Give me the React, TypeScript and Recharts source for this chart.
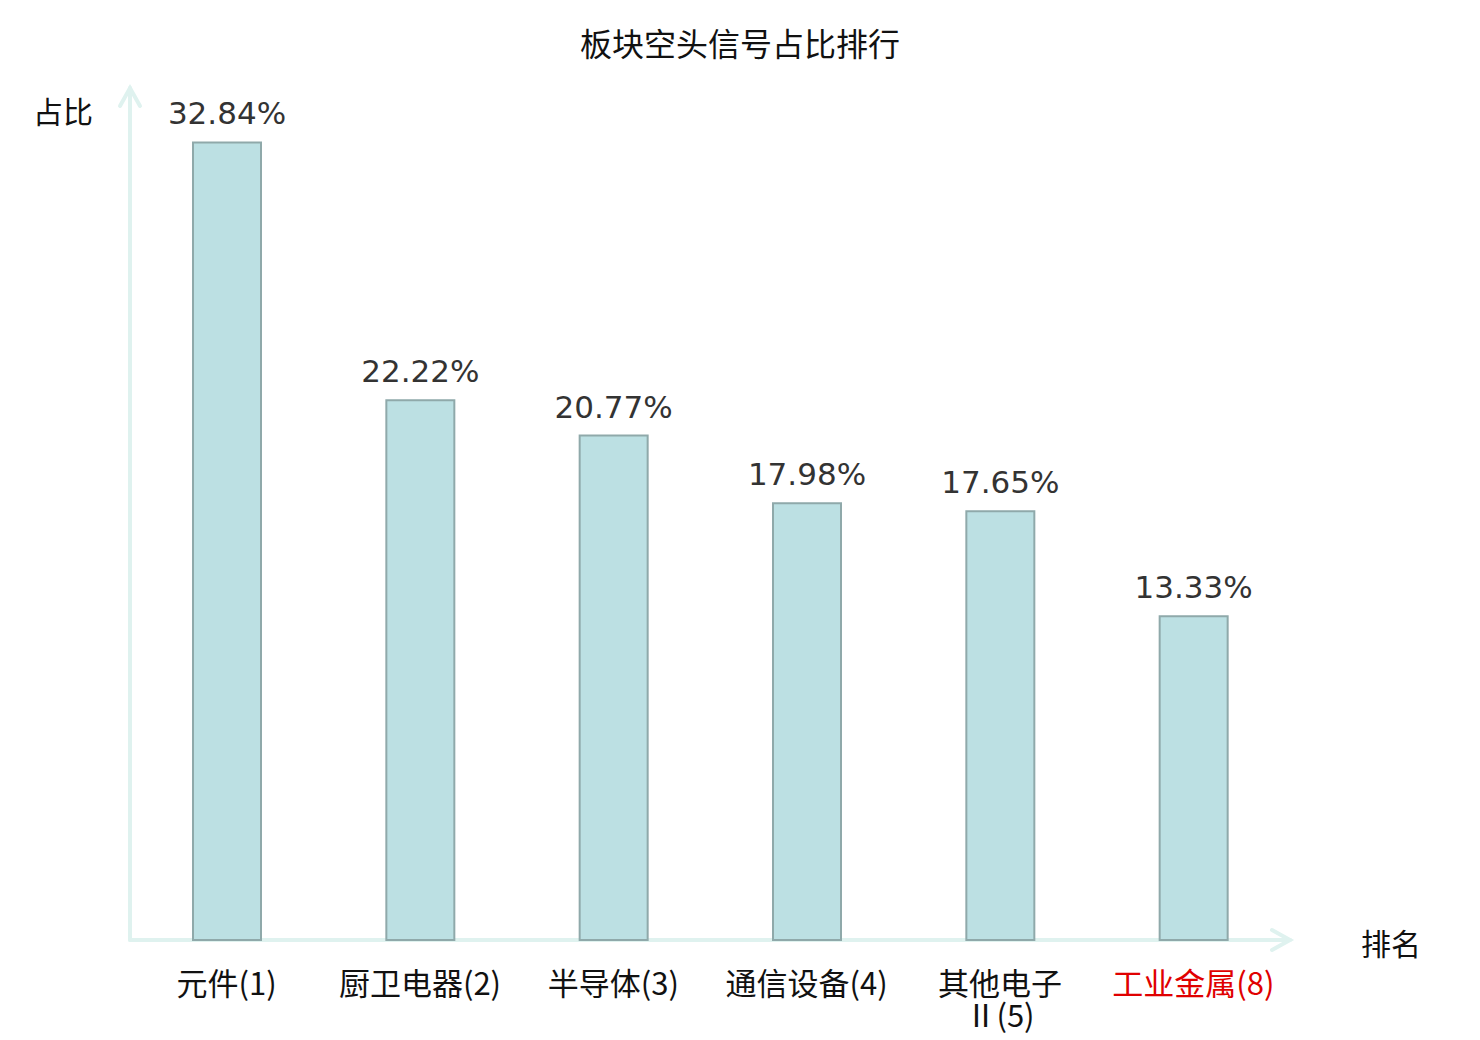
import React from 'react';
import { Bar, BarChart, LabelList, XAxis, YAxis, useOffset } from 'recharts';

const categories = ['元件(1)', '厨卫电器(2)', '半导体(3)', '通信设备(4)', '其他电子Ⅱ(5)', '工业金属(8)'];
const shares = [32.84, 22.22, 20.77, 17.98, 17.65, 13.33];
const highlighted = ['工业金属(8)'];

const data = categories.map((name, i) => ({ name, value: shares[i] }));

const W = 1480;
const H = 1040;
const AXIS_COLOR = '#dff2ef';
const CJK_FONT = '"Noto Sans CJK SC", "Noto Sans", sans-serif';

const isCjk = (c: string) => c.charCodeAt(0) >= 0x3000;

// CJK glyphs break one by one, other runs stay together as a word
const tokenize = (s: string) => {
	const out: string[] = [];
	for (const c of [...s]) {
		const last = out[out.length - 1];
		if (!isCjk(c) && last && !isCjk(last[last.length - 1])) out[out.length - 1] = last + c;
		else out.push(c);
	}
	return out;
};

// rough width estimate: CJK glyphs are 1em, the rest about 0.4em
const textWidth = (s: string, size: number) =>
	[...s].reduce((w, c) => w + (isCjk(c) ? size : size * 0.4), 0);

const wrapLabel = (s: string, size: number, max: number) => {
	const lines: string[] = [];
	let cur = '';
	for (const t of tokenize(s)) {
		if (cur && textWidth(cur + t, size) > max) {
			lines.push(cur);
			cur = t;
		} else cur += t;
	}
	if (cur) lines.push(cur);
	return lines;
};

const CategoryTick = (props: any) => {
	const { x, y, payload } = props;
	const lines = wrapLabel(payload.value, 32, 175);
	const color = highlighted.includes(payload.value) ? '#e00000' : '#111';
	return (
		<text x={x} y={y} textAnchor='middle' fill={color} fontSize={31} fontFamily={CJK_FONT}>
			{lines.map((l, i) => (
				<tspan key={i} x={x} dy={i === 0 ? 47 : 32}>
					{l}
				</tspan>
			))}
		</text>
	);
};

const ArrowAxes = () => {
	const offset = useOffset();
	if (!offset) return null;
	const x0 = offset.left;
	const y0 = H - offset.bottom;
	const x1 = W - offset.right;
	const y1 = offset.top - 2;
	return (
		<g stroke={AXIS_COLOR} strokeWidth={4} fill='none' strokeLinecap='round'>
			<line x1={x0} y1={y0} x2={x1} y2={y0} />
			<polyline points={`${x1 - 18},${y0 - 10} ${x1},${y0} ${x1 - 18},${y0 + 10}`} />
			<line x1={x0} y1={y0} x2={x0} y2={y1} />
			<polyline points={`${x0 - 10},${y1 + 18} ${x0},${y1} ${x0 + 10},${y1 + 18}`} />
		</g>
	);
};

export default function App() {
	return (
		<div style={{ position: 'absolute', left: 0, top: 0, width: W, height: H, background: '#fff' }}>
			<BarChart
				width={W}
				height={H}
				data={data}
				margin={{ top: 90, right: 190, left: 130, bottom: 70 }}
			>
				<text x={740} y={42} textAnchor='middle' dominantBaseline='central' fontSize={32} fontFamily={CJK_FONT} fill='#111'>
					板块空头信号占比排行
				</text>
				<text x={63} y={110} textAnchor='middle' dominantBaseline='central' fontSize={30} fontFamily={CJK_FONT} fill='#111'>
					占比
				</text>
				<text x={1391} y={942} textAnchor='middle' dominantBaseline='central' fontSize={30} fontFamily={CJK_FONT} fill='#111'>
					排名
				</text>
				<XAxis
					dataKey='name'
					axisLine={false}
					tickLine={false}
					interval={0}
					height={30}
					tick={<CategoryTick />}
				/>
				<YAxis hide domain={[0, 35]} />
				<Bar
					dataKey='value'
					barSize={68}
					fill='#bce0e3'
					stroke='#8fa9aa'
					strokeWidth={2}
					isAnimationActive={false}
				>
					<LabelList
						dataKey='value'
						position='top'
						offset={18}
						formatter={(v: any) => `${Number(v).toFixed(2)}%`}
						fill='#333'
						fontSize={31}
						fontFamily='"DejaVu Sans", sans-serif'
					/>
				</Bar>
				<ArrowAxes />
			</BarChart>
		</div>
	);
}
